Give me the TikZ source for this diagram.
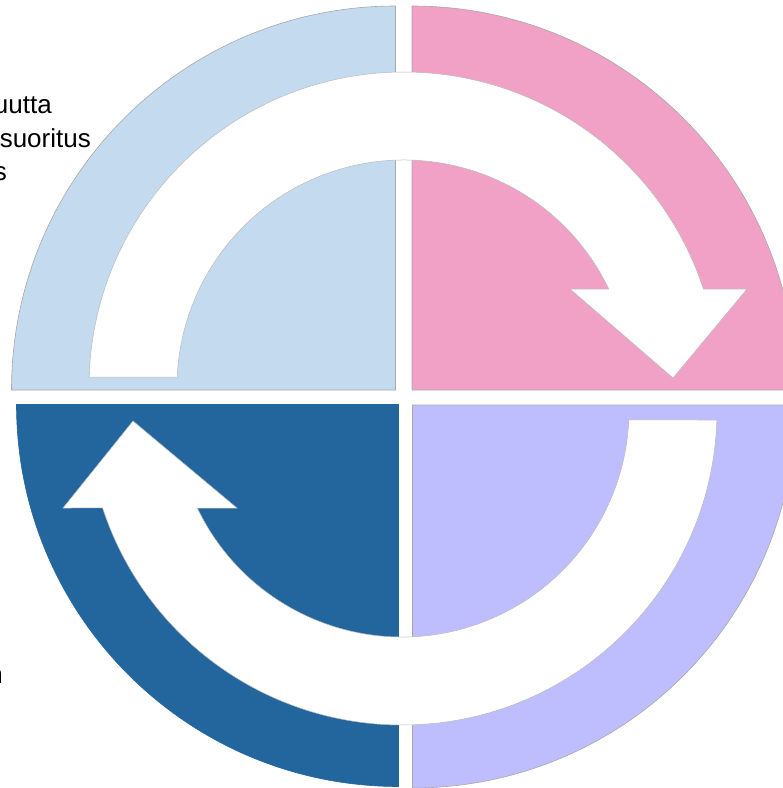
\documentclass[tikz,border=0pt]{standalone}
\usepackage{fontspec}
\setmainfont{Liberation Sans}
\usetikzlibrary{calc}
\definecolor{qlight}{HTML}{C4DAEE}
\definecolor{qpink}{HTML}{F1A1C6}
\definecolor{qlav}{HTML}{BEBEFF}
\definecolor{qdark}{HTML}{23669E}
\definecolor{edgegray}{HTML}{A8A8A8}
\tikzset{
  quad/.style={draw=edgegray, line width=0.6pt},
  ringarrow/.style={fill=white, draw=edgegray!80, line width=0.5pt},
  label/.style={inner sep=0pt, font=\fontsize{26}{31}\selectfont, text=black}
}
\begin{document}
\begin{tikzpicture}[x=1pt,y=1pt]
\useasboundingbox (0,0) rectangle (783,-788);
% quadrants
\path[quad, fill=qlight] (395.5,-390) -- ++(-384,0) arc[start angle=180, end angle=90, radius=384pt] -- cycle;
\path[quad, fill=qpink] (412,-390) -- ++(0,384) arc[start angle=90, end angle=0, radius=384pt] -- cycle;
\path[quad, fill=qdark, draw=qdark] (398.5,-404.5) -- ++(-382,0) arc[start angle=180, end angle=270, radius=382pt] -- cycle;
\path[quad, fill=qlav] (412.5,-405) -- ++(0,-383) arc[start angle=270, end angle=360, radius=383pt] -- cycle;
% top arrow (clockwise, pointing down at right)
\coordinate (c1) at (404,-387);
\path[ringarrow] ($(c1)+(178.18:315)$) arc[start angle=178.18, end angle=18.12, radius=315pt]
  -- (747,-289) -- (673,-378) -- (570,-289)
  -- ($(c1)+(25.58:227)$) arc[start angle=25.58, end angle=177.48, radius=227pt] -- cycle;
% bottom arrow (clockwise, pointing up at left)
\coordinate (c2) at (402,-410);
\path[ringarrow] ($(c2)+(-1.82:315)$) arc[start angle=-1.82, end angle=-161.88, radius=315pt]
  -- (63,-508) -- (133,-421) -- (237,-508)
  -- ($(c2)+(205.58:227)$) arc[start angle=205.58, end angle=357.48, radius=227pt] -- cycle;
% clipped text fragments at the left edge
\node[label, anchor=base east] (t1) at (52,-113) {uutta};
\node[label, anchor=base east] (t2) at (91,-147) {suoritus};
\node[label, anchor=base east] (t3) at (7,-180) {s};
\node[label, anchor=base east] (t4) at (3,-683) {n};
\end{tikzpicture}
\end{document}
